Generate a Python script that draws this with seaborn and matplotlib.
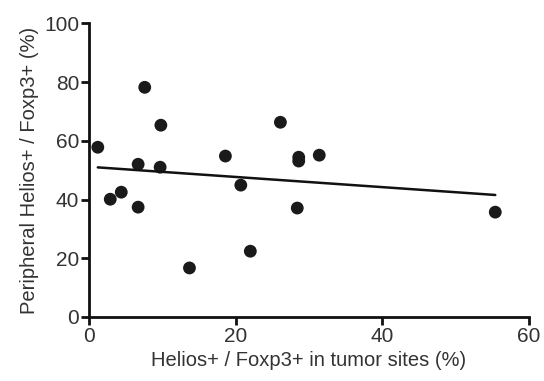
import matplotlib
matplotlib.use("Agg")
import matplotlib.pyplot as plt
import seaborn as sns
import pandas as pd
import numpy as np

tumor = [1.2, 2.9, 4.4, 6.7, 6.7, 7.6, 9.8, 9.7, 13.7, 18.6, 20.7, 22.0, 26.1, 28.6, 28.6, 28.4, 31.4, 55.4]
peripheral = [57.8, 40.1, 42.5, 52.0, 37.4, 78.2, 65.3, 51.0, 16.7, 54.8, 44.9, 22.4, 66.3, 54.4, 53.1, 37.1, 55.1, 35.7]
xticks = [0, 20, 40, 60]
yticks = [0, 20, 40, 60, 80, 100]

df = pd.DataFrame({"tumor": tumor, "peripheral": peripheral})

sns.set_theme(style="ticks")
plt.rcParams['font.family'] = ['Liberation Sans', 'DejaVu Sans']

fig = plt.figure(figsize=(5.44, 3.81), dpi=100)
ax = fig.add_axes([89/544, 1-317/381, 440/544, (317-23.3)/381])

sns.regplot(data=df, x="tumor", y="peripheral", ax=ax, ci=None, truncate=True,
            scatter_kws=dict(s=85, color="#1a1a1a", edgecolor="none", alpha=1),
            line_kws=dict(color="#111111", lw=1.8))

ax.set_xlim(0, 60)
ax.set_ylim(0, 100)
ax.set_xticks(xticks)
ax.set_yticks(yticks)
ax.set_xticklabels([str(t) for t in xticks])
ax.set_yticklabels([str(t) for t in yticks])
ax.margins(0)
for s in ["top", "right"]:
    ax.spines[s].set_visible(False)
for s in ["left", "bottom"]:
    ax.spines[s].set_linewidth(2)
    ax.spines[s].set_color("#111111")
    ax.spines[s].set_clip_on(False)
ax.tick_params(axis="both", length=6, width=2, color="#111111", labelsize=15,
               labelcolor="#333333", pad=1)
ax.set_xlabel("Helios+ / Foxp3+ in tumor sites (%)", fontsize=14.5, color="#333333", labelpad=4)
ax.set_ylabel("Peripheral Helios+ / Foxp3+ (%)", fontsize=14.5, color="#333333", labelpad=4)
for c in ax.collections:
    c.set_clip_on(False)

fig.savefig("out.png", dpi=100)
